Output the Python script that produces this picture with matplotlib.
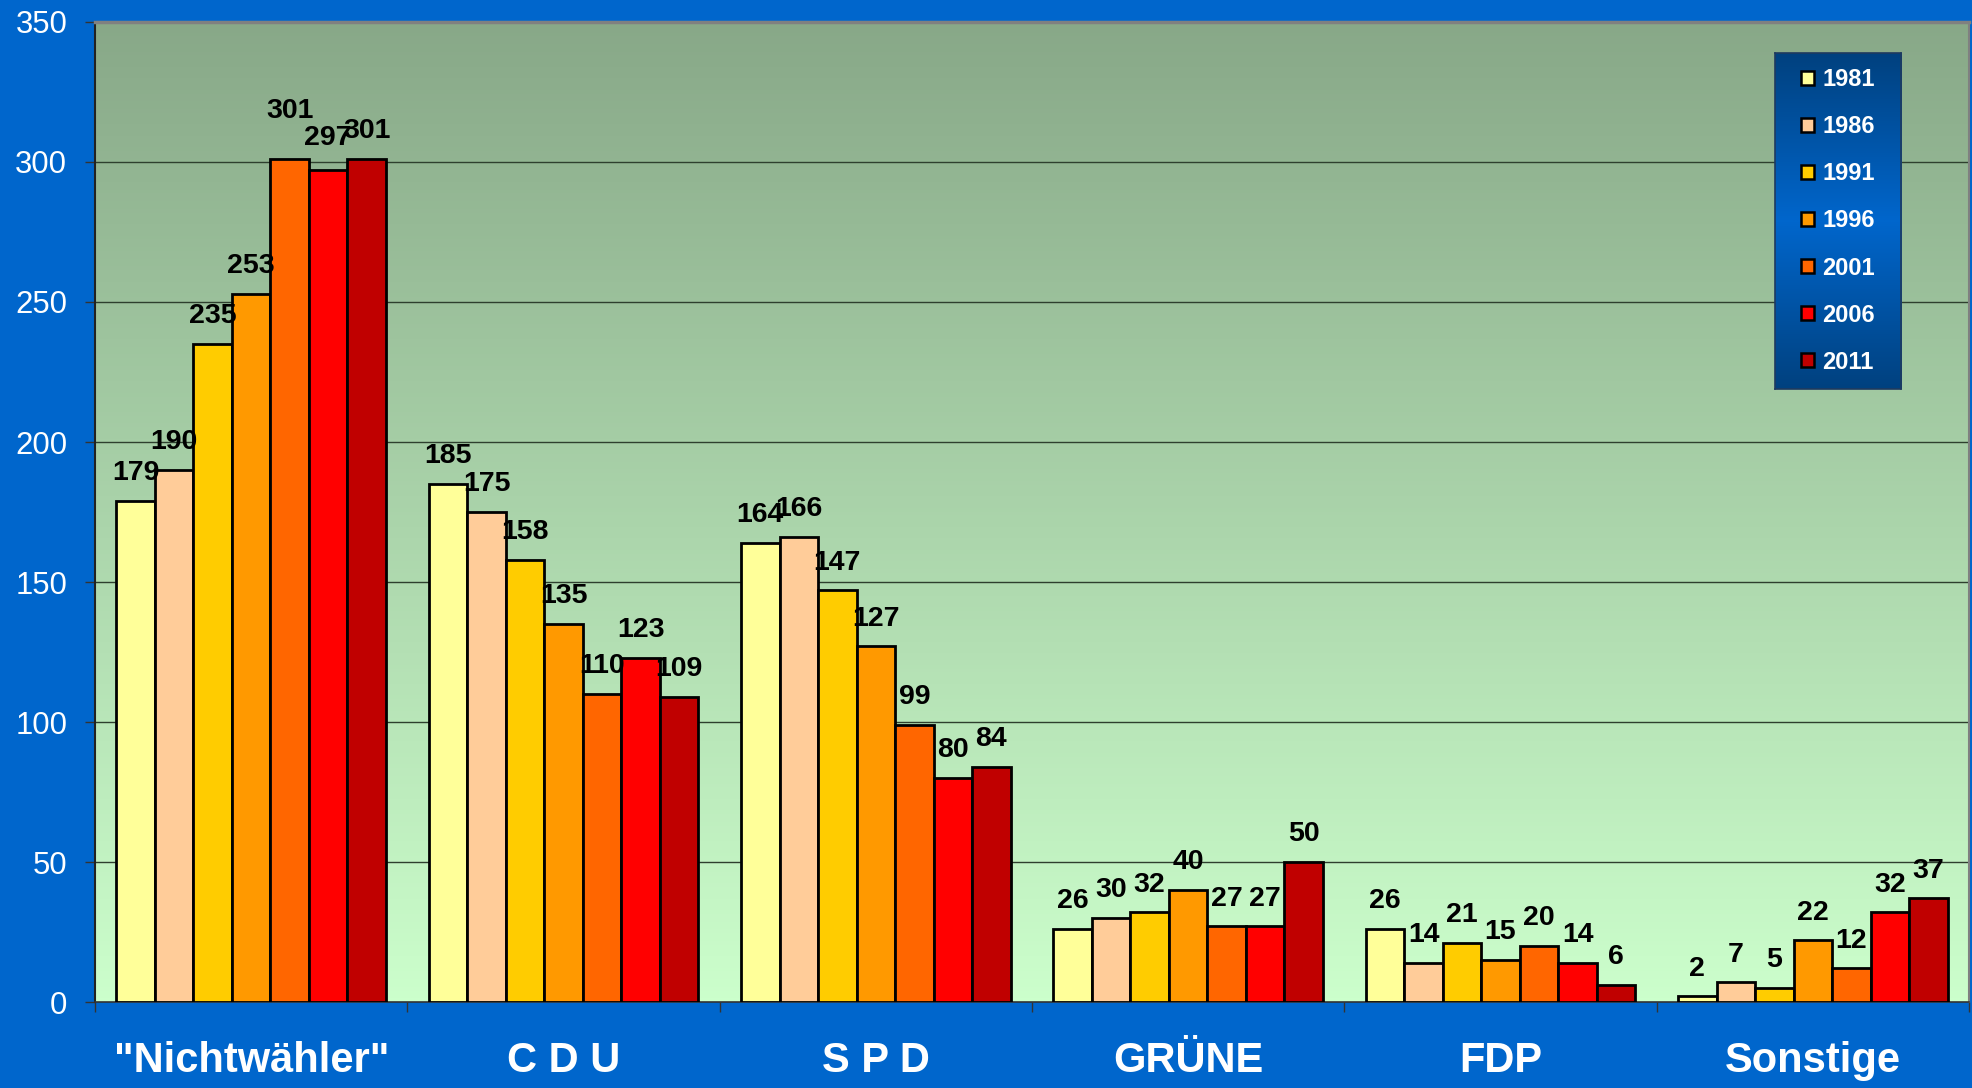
import numpy as np
import matplotlib
matplotlib.use("Agg")
import matplotlib.pyplot as plt
from matplotlib.patches import Patch
from matplotlib.colors import LinearSegmentedColormap

# ---- data ----
categories = ['"Nichtwähler"', 'C D U', 'S P D', 'GRÜNE', 'FDP', 'Sonstige']
years = ['1981', '1986', '1991', '1996', '2001', '2006', '2011']
v1981 = [179, 185, 164, 26, 26, 2]
v1986 = [190, 175, 166, 30, 14, 7]
v1991 = [235, 158, 147, 32, 21, 5]
v1996 = [253, 135, 127, 40, 15, 22]
v2001 = [301, 110, 99, 27, 20, 12]
v2006 = [297, 123, 80, 27, 14, 32]
v2011 = [301, 109, 84, 50, 6, 37]
series = [v1981, v1986, v1991, v1996, v2001, v2006, v2011]
yticks = [0, 50, 100, 150, 200, 250, 300, 350]

# ---- style ----
colors = ['#FFFF99', '#FFCC99', '#FFCC00', '#FF9900', '#FF6600', '#FF0000', '#C00000']
fig_bg = '#0066CC'
plt.rcParams['font.family'] = ['Liberation Sans', 'DejaVu Sans']

fig = plt.figure(figsize=(19.72, 10.88), dpi=100, facecolor=fig_bg)
ax = fig.add_axes([0.0482, 0.0790, 0.9503, 0.9008])

x = np.arange(len(categories))
n = len(series)
w = 0.1233

# background gradient
grad = np.linspace(0, 1, 256).reshape(-1, 1)
cmap_bg = LinearSegmentedColormap.from_list('bg', ['#CCFFCC', '#88A888'])
ax.imshow(grad, cmap=cmap_bg, origin='lower', aspect='auto',
          extent=[-0.5, len(categories) - 0.5, 0, 350], zorder=0)

for yv in yticks[1:-1]:
    ax.axhline(yv, color='#2E3F2E', lw=1.0, zorder=1)

extra_off = {(0, 4): 15, (0, 5): 3}
for i, vals in enumerate(series):
    pos = x + (i - (n - 1) / 2) * w
    ax.bar(pos, vals, width=w, color=colors[i], edgecolor='black',
           linewidth=2.0, zorder=3, label=years[i])
    for j, (px, v) in enumerate(zip(pos, vals)):
        ax.annotate(str(v), (px, v), xytext=(0, 20 + extra_off.get((j, i), 0)),
                    textcoords='offset points', ha='center', va='center',
                    fontsize=20.5, fontweight='bold', color='black', zorder=5)

ax.set_xlim(-0.5, len(categories) - 0.5)
ax.set_ylim(0, 350)
ax.set_yticks(yticks)
ax.set_yticklabels([str(t) for t in yticks])
ax.tick_params(axis='y', colors='white', labelsize=22.4, length=7, width=1,
               pad=13, direction='out')
ax.tick_params(axis='y', which='both', color='#333333')

ax.set_xticks(x)
ax.set_xticklabels(categories)
ax.set_xticks(np.arange(-0.5, len(categories) + 0.5, 1), minor=True)
ax.tick_params(axis='x', which='major', length=0, pad=28, labelsize=30,
               labelcolor='white')
ax.tick_params(axis='x', which='minor', length=7, width=1, color='#333333',
               direction='out')
for lab in ax.get_xticklabels():
    lab.set_fontweight('bold')

ax.spines['left'].set_color('#222222')
ax.spines['left'].set_linewidth(1.5)
ax.spines['bottom'].set_color('#333333')
ax.spines['bottom'].set_linewidth(1.2)
ax.spines['top'].set_color('#808080')
ax.spines['top'].set_linewidth(2.5)
ax.spines['right'].set_color('#808080')
ax.spines['right'].set_linewidth(1.5)

# legend box with gradient
lax = fig.add_axes([0.9001, 0.6425, 0.0639, 0.3088])
lgrad = np.concatenate([np.linspace(0, 1, 128), np.linspace(1, 0, 128)]).reshape(-1, 1)
cmap_lg = LinearSegmentedColormap.from_list('lg', ['#00417F', '#0066CC'])
lax.imshow(lgrad, cmap=cmap_lg, aspect='auto', extent=[0, 1, 0, 1])
lax.set_xticks([])
lax.set_yticks([])
for s in lax.spines.values():
    s.set_color('#1F3A5F')
    s.set_linewidth(1.2)
handles = [Patch(facecolor=c, edgecolor='black', linewidth=1.8) for c in colors]
leg = lax.legend(handles, years, loc='center', frameon=False, fontsize=17,
                 labelcolor='white', handlelength=0.55, handleheight=0.55,
                 handletextpad=0.35, labelspacing=1.02, borderpad=0.2)
for t in leg.get_texts():
    t.set_fontweight('bold')

fig.savefig('out.png', dpi=100, facecolor=fig_bg)
